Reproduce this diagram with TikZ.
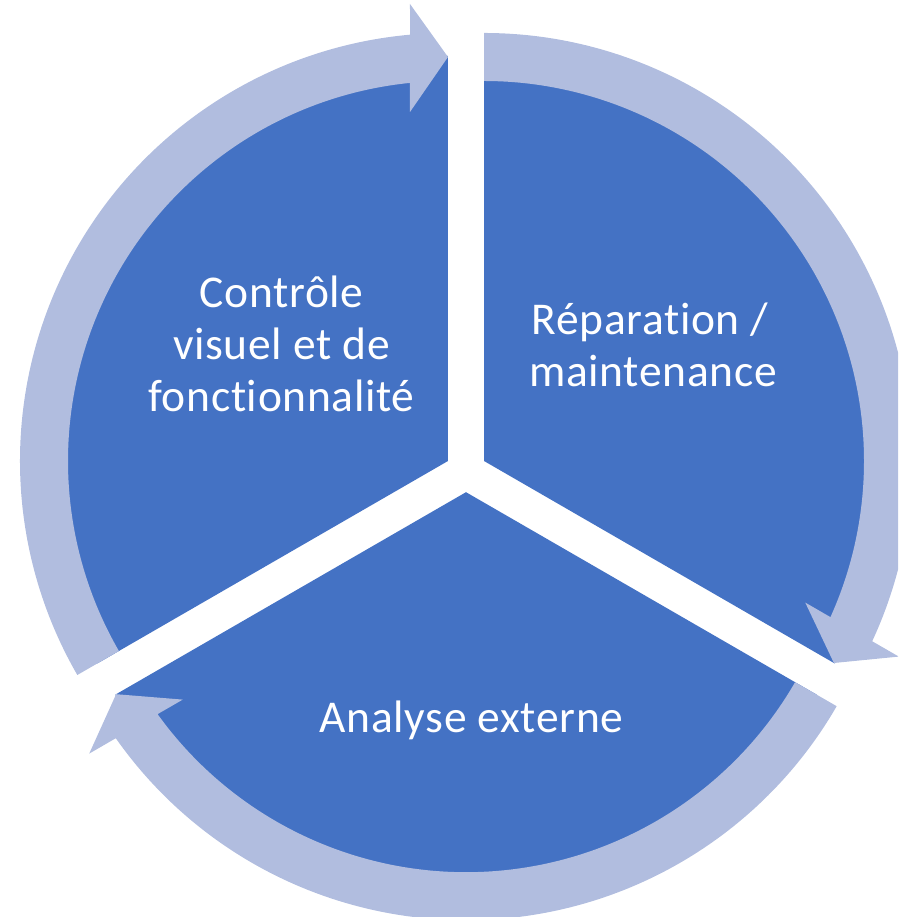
\documentclass[tikz,border=0pt]{standalone}
\usepackage{fontspec}
\setmainfont{Carlito}
\newfontfamily\lblfont[LetterSpace=1.5,Ligatures=NoCommon]{Carlito}
\usetikzlibrary{calc}
\definecolor{pieblue}{HTML}{4472C4}
\definecolor{ringblue}{HTML}{B1BDDF}
\tikzset{
  piefill/.style={fill=pieblue},
  ringfill/.style={fill=ringblue},
  lbl/.style={text=white, font=\lblfont\fontsize{45.5pt}{54pt}\selectfont, inner sep=0pt, anchor=base}
}
% #1 apex, #2 start angle, #3 end angle
\newcommand{\cycsector}[3]{%
  \fill[piefill] (#1) -- ($(#1)+(#2:405pt)$) arc[start angle=#2, end angle=#3, radius=405pt] -- cycle;}
% #1 apex, #2 tail angle, #3 tip angle
\newcommand{\cycarrow}[3]{%
  \fill[ringfill] ($(#1)+(#2:428pt)$) arc[start angle=#2, end angle=#3+5.09, radius=428pt]
    -- ($(#1)+(#3:457pt)+(#3+90:38pt)$)
    -- ($(#1)+(#3:404pt)$)
    -- ($(#1)+(#3:349pt)+(#3+90:38pt)$)
    -- ($(#1)+(#3+5.74:380pt)$)
    arc[start angle=#3+5.74, end angle=#2, radius=380pt] -- cycle;}
\begin{document}
\begin{tikzpicture}[x=1pt,y=1pt]
\useasboundingbox (0,0) rectangle (898,917);
\clip (0,0) rectangle (898,917);
\coordinate (C) at (466,445.6);
\coordinate (aTR) at ($(C)+(30:20.8pt)$);
\coordinate (aL) at ($(C)+(150:20.8pt)$);
\coordinate (aB) at ($(C)+(270:20.8pt)$);
% sectors
\cycsector{aTR}{90}{-30}
\cycsector{aL}{210}{90}
\cycsector{aB}{330}{210}
% circular arrows
\cycarrow{aTR}{90}{-30}
\cycarrow{aL}{210}{90}
\cycarrow{aB}{330}{210}
% labels
\node[lbl] (l1) at (281.5,609) {Contrôle};
\node[lbl] (l2) at (281.5,557) {visuel et de};
\node[lbl] (l3) at (281.5,505) {fonctionnalité};
\node[lbl] (r1) at (650,582) {Réparation /};
\node[lbl] (r2) at (653,530) {maintenance};
\node[lbl] (b1) at (471.5,184) {Analyse externe};
\end{tikzpicture}
\end{document}
